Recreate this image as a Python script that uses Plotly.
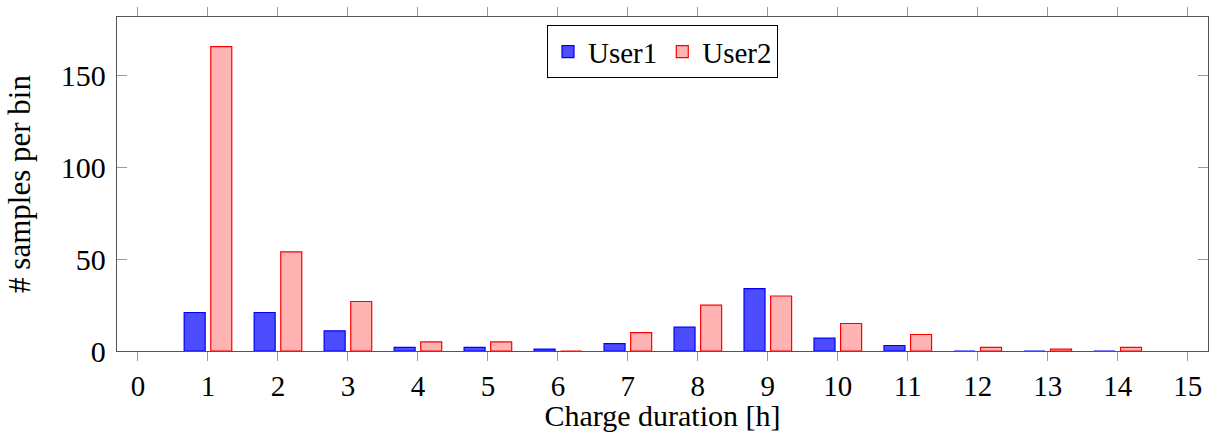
import plotly.graph_objects as go

hours = [1, 2, 3, 4, 5, 6, 7, 8, 9, 10, 11, 12, 13, 14]
user1 = [21, 21, 11, 2, 2, 1, 4, 13, 34, 7, 3, 0, 0, 0]
user2 = [166, 54, 27, 5, 5, 0, 10, 25, 30, 15, 9, 2, 1, 2]
x_ticks = list(range(0, 16))
y_ticks = [0, 50, 100, 150]

FONT = "'Liberation Serif', 'Times New Roman', Times, serif"

fig = go.Figure()
fig.add_trace(go.Bar(
    x=hours, y=user1, name="User1",
    width=0.3, offset=-0.34,
    marker=dict(color="rgba(77,77,255,1)", line=dict(color="blue", width=1.2)),
))
fig.add_trace(go.Bar(
    x=hours, y=user2, name="User2",
    width=0.3, offset=0.04,
    marker=dict(color="#ffb3b3", line=dict(color="red", width=1.2)),
))

fig.update_layout(
    width=1212, height=432,
    margin=dict(l=117, r=4, t=17, b=81),
    paper_bgcolor="white", plot_bgcolor="white",
    barmode="overlay",
    font=dict(family=FONT, size=30, color="black"),
    legend=dict(
        orientation="h", x=0.5, xanchor="center", y=0.975, yanchor="top",
        bordercolor="black", borderwidth=1, bgcolor="white",
        font=dict(family=FONT, size=29), itemwidth=30, tracegroupgap=0,
    ),
    xaxis=dict(
        range=[-0.3, 15.29], tickmode="array", tickvals=x_ticks,
        ticktext=[str(v) for v in x_ticks],
        ticks="outside", ticklen=9, tickcolor="#999", tickwidth=1,
        showline=True, linecolor="#555", linewidth=1.3, mirror="ticks",
        showgrid=False, zeroline=False,
        tickfont=dict(family=FONT, size=29),
        title=dict(text="Charge duration [h]", font=dict(family=FONT, size=30), standoff=2),
    ),
    yaxis=dict(
        range=[0, 182.1], tickmode="array", tickvals=y_ticks,
        ticktext=[str(v) for v in y_ticks],
        ticks="inside", ticklen=10, tickcolor="#999", tickwidth=1,
        showline=True, linecolor="#555", linewidth=1.3, mirror="ticks",
        showgrid=False, zeroline=False,
        tickfont=dict(family=FONT, size=30),
        ticklabelstandoff=4,
        title=dict(text="# samples per bin", font=dict(family=FONT, size=31), standoff=20),
    ),
)

fig.write_html("out.html")
